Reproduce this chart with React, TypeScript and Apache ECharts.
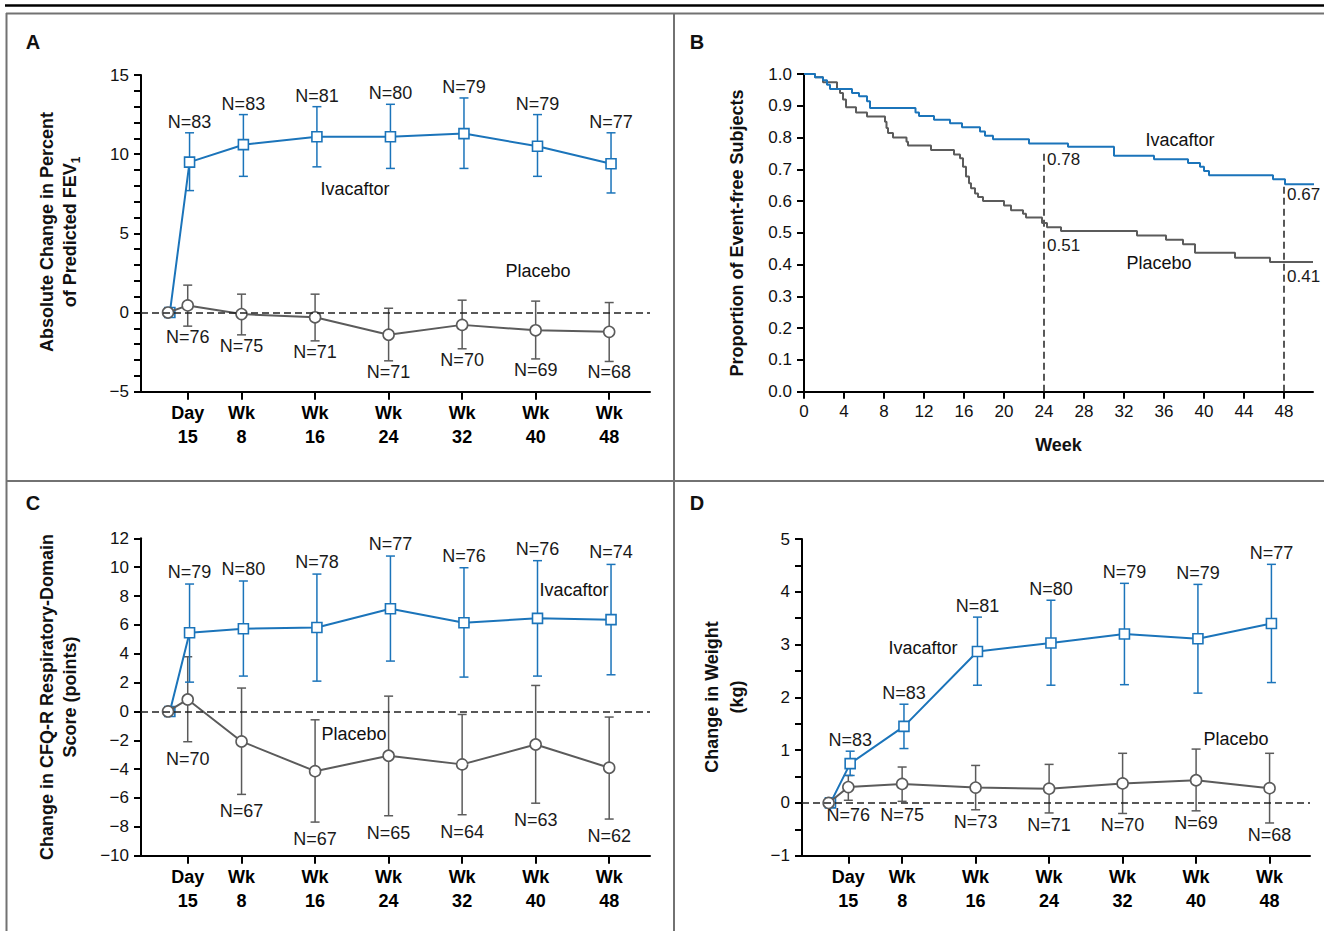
import React, { useEffect, useRef } from "react";
import * as echarts from "echarts";

// ---------- shared categories ----------
const visitWeeks = [15 / 7, 8, 16, 24, 32, 40, 48];
const visitLabels = ["Day\n15", "Wk\n8", "Wk\n16", "Wk\n24", "Wk\n32", "Wk\n40", "Wk\n48"];
const baselineWeek = 0;
const baselineValue = 0;

// ---------- Panel A: FEV1 ----------
const fevIvaMean = [9.5, 10.6, 11.1, 11.1, 11.3, 10.5, 9.4];
const fevIvaLow = [7.7, 8.6, 9.2, 9.1, 9.1, 8.6, 7.55];
const fevIvaHigh = [11.35, 12.5, 13.0, 13.15, 13.55, 12.5, 11.35];
const fevIvaN = [83, 83, 81, 80, 79, 79, 77];
const fevPboMean = [0.45, -0.1, -0.3, -1.4, -0.78, -1.12, -1.22];
const fevPboLow = [-0.86, -1.41, -1.79, -3.05, -2.29, -2.93, -3.09];
const fevPboHigh = [1.73, 1.16, 1.16, 0.27, 0.78, 0.72, 0.63];
const fevPboN = [76, 75, 71, 71, 70, 69, 68];
const fevTickLabels = [-5, 0, 5, 10, 15];

// ---------- Panel B: Kaplan-Meier ----------
const kmIvacaftor = [
  [0, 1], [1.1, 0.99], [1.9, 0.98], [2.3, 0.966], [2.6, 0.953], [4.8, 0.94], [5.5, 0.93],
  [6.3, 0.914], [6.6, 0.893], [11.15, 0.879], [11.5, 0.868], [13.0, 0.856], [14.6, 0.845],
  [15.8, 0.832], [17.6, 0.819], [18.1, 0.806], [18.9, 0.795], [22.5, 0.781], [26.4, 0.771],
  [31.0, 0.743], [35.0, 0.732], [38.4, 0.72], [39.6, 0.708], [40.0, 0.695], [40.5, 0.681],
  [46.9, 0.669], [48.1, 0.653], [51.4, 0.653],
];
const kmPlacebo = [
  [0, 1], [1.1, 0.99], [1.9, 0.974], [3.3, 0.953], [3.6, 0.94], [3.9, 0.92], [4.2, 0.895],
  [5.2, 0.879], [6.3, 0.866], [8.1, 0.85], [8.25, 0.83], [8.4, 0.814], [8.9, 0.8],
  [10.25, 0.787], [10.4, 0.775], [12.7, 0.761], [15.0, 0.747], [15.6, 0.735], [15.9, 0.708],
  [16.2, 0.677], [16.5, 0.656], [16.7, 0.64], [17.1, 0.624], [17.4, 0.613], [17.9, 0.6],
  [20.0, 0.586], [20.7, 0.571], [21.9, 0.56], [22.2, 0.548], [23.8, 0.531], [24.3, 0.518],
  [25.7, 0.506], [33.3, 0.492], [36.2, 0.478], [37.9, 0.464], [39.1, 0.437], [43.1, 0.422],
  [46.6, 0.408], [50.9, 0.408],
];
const kmMarkWeeks = [24, 48];
const kmMarkIva = [0.78, 0.67];
const kmMarkPbo = [0.51, 0.41];
const kmWeekTicks = [0, 4, 8, 12, 16, 20, 24, 28, 32, 36, 40, 44, 48];

// ---------- Panel C: CFQ-R ----------
const cfqIvaMean = [5.45, 5.73, 5.82, 7.12, 6.15, 6.45, 6.36];
const cfqIvaLow = [2.03, 2.45, 2.1, 3.49, 2.38, 2.45, 2.54];
const cfqIvaHigh = [8.83, 9.04, 9.52, 10.77, 9.96, 10.45, 10.19];
const cfqIvaN = [79, 80, 78, 77, 76, 76, 74];
const cfqPboMean = [0.83, -2.08, -4.14, -3.07, -3.67, -2.29, -3.9];
const cfqPboLow = [-2.1, -5.75, -7.67, -7.23, -7.16, -6.36, -7.46];
const cfqPboHigh = [3.79, 1.62, -0.58, 1.06, -0.21, 1.8, -0.39];
const cfqPboN = [70, 67, 67, 65, 64, 63, 62];
const cfqTickLabels = [-10, -8, -6, -4, -2, 0, 2, 4, 6, 8, 10, 12];

// ---------- Panel D: Weight ----------
const wtIvaMean = [0.745, 1.45, 2.87, 3.03, 3.2, 3.11, 3.4];
const wtIvaLow = [0.52, 1.03, 2.23, 2.23, 2.24, 2.08, 2.28];
const wtIvaHigh = [0.98, 1.87, 3.52, 3.84, 4.16, 4.14, 4.52];
const wtIvaN = [83, 83, 81, 80, 79, 79, 77];
const wtPboMean = [0.3, 0.36, 0.29, 0.27, 0.37, 0.43, 0.28];
const wtPboLow = [0.05, 0.03, -0.13, -0.19, -0.2, -0.15, -0.38];
const wtPboHigh = [0.52, 0.68, 0.71, 0.73, 0.94, 1.02, 0.94];
const wtPboN = [76, 75, 73, 71, 70, 69, 68];
const wtTickLabels = [-1, 0, 1, 2, 3, 4, 5];

// ---------- styles ----------
const FONT = "'Liberation Sans', Arial, Helvetica, sans-serif";
const BLUE = "#1b74ba";
const GRAY = "#5b5b5b";
const FRAME = "#727272";
const DODGE = 0.2;

const minusFmt = (v: number) => (v < 0 ? "\u2212" + Math.abs(v) : String(v));
const visitFmt = (v: number) => {
  const i = visitWeeks.findIndex((w) => Math.abs(w - v) < 1e-6);
  return i >= 0 ? visitLabels[i] : "";
};

const axisLineStyle = { show: true, onZero: false, lineStyle: { color: "#000", width: 2 } };
const tickStyle = { color: "#000", width: 2 };

function visitXAxis(gi: number, min: number, max: number) {
  return {
    type: "value",
    gridIndex: gi,
    min,
    max,
    axisLine: axisLineStyle,
    axisTick: { show: true, customValues: visitWeeks, length: 8, lineStyle: tickStyle },
    axisLabel: {
      show: true,
      customValues: visitWeeks,
      formatter: visitFmt,
      color: "#000",
      fontFamily: FONT,
      fontSize: 18,
      fontWeight: "bold",
      lineHeight: 24,
      margin: 9,
    },
    splitLine: { show: false },
  };
}

function valueYAxis(gi: number, min: number, max: number, tickStep: number, labels: number[] | null, fmt: any) {
  const label: any = { show: true, formatter: fmt, color: "#111", fontFamily: FONT, fontSize: 17, margin: 12 };
  if (labels) label.customValues = labels;
  return {
    type: "value",
    gridIndex: gi,
    min,
    max,
    interval: tickStep,
    axisLine: axisLineStyle,
    axisTick: { show: true, length: 7, lineStyle: tickStyle },
    axisLabel: label,
    splitLine: { show: false },
  };
}

function meanLine(gi: number, name: string, means: number[], color: string, symbol: string, dodge: number, z: number) {
  return {
    type: "line",
    name,
    xAxisIndex: gi,
    yAxisIndex: gi,
    data: [[baselineWeek + dodge, baselineValue], ...visitWeeks.map((w, i) => [w + dodge, means[i]])],
    symbol,
    symbolSize: symbol === "rect" ? 10 : 11,
    lineStyle: { color, width: 2 },
    itemStyle: { color: "#fff", borderColor: color, borderWidth: 1.6 },
    z,
    silent: true,
  };
}

function errorBars(
  gi: number,
  lows: number[],
  highs: number[],
  ns: number[],
  color: string,
  dodge: number,
  side: "above" | "below",
  offset: number,
  withZero: boolean
) {
  const s: any = {
    type: "custom",
    xAxisIndex: gi,
    yAxisIndex: gi,
    z: 2,
    silent: true,
    data: visitWeeks.map((w, i) => [w + dodge, lows[i], highs[i], ns[i]]),
    renderItem: (_p: any, api: any) => {
      const x = api.value(0);
      const lo = api.value(1);
      const hi = api.value(2);
      const n = api.value(3);
      const a = api.coord([x, lo]);
      const b = api.coord([x, hi]);
      const ly = side === "above" ? b[1] - offset : api.coord([x, Math.min(lo, 0)])[1] + offset;
      const cap = 4.5;
      const ls = { stroke: color, lineWidth: 1.5 };
      return {
        type: "group",
        children: [
          { type: "line", shape: { x1: a[0], y1: a[1], x2: b[0], y2: b[1] }, style: ls },
          { type: "line", shape: { x1: a[0] - cap, y1: a[1], x2: a[0] + cap, y2: a[1] }, style: ls },
          { type: "line", shape: { x1: b[0] - cap, y1: b[1], x2: b[0] + cap, y2: b[1] }, style: ls },
          {
            type: "text",
            x: a[0],
            y: ly,
            style: { text: "N=" + n, fill: "#1a1a1a", font: `18px ${FONT}`, align: "center", verticalAlign: "middle" },
          },
        ],
      };
    },
  };
  if (withZero) {
    s.markLine = {
      silent: true,
      symbol: "none",
      label: { show: false },
      lineStyle: { color: "#222", width: 1.5, type: [7, 4] },
      data: [{ yAxis: 0 }],
    };
  }
  return s;
}

function kmLine(name: string, data: number[][], color: string) {
  return {
    type: "line",
    name,
    xAxisIndex: 1,
    yAxisIndex: 1,
    step: "end",
    data,
    symbol: "none",
    clip: false,
    lineStyle: { color, width: 2 },
    z: 3,
    silent: true,
  };
}

function kmMarks() {
  return {
    type: "custom",
    xAxisIndex: 1,
    yAxisIndex: 1,
    z: 2,
    silent: true,
    data: kmMarkWeeks.map((w, i) => [w, kmMarkIva[i], kmMarkPbo[i]]),
    renderItem: (_p: any, api: any) => {
      const w = api.value(0);
      const iv = api.value(1);
      const pb = api.value(2);
      const bottom = api.coord([w, 0]);
      const top = api.coord([w, iv - 0.02]);
      const pIv = api.coord([w, iv]);
      const pPb = api.coord([w, pb]);
      const ts = (t: number, y: number) => ({
        type: "text",
        x: bottom[0] + 3,
        y: y + 7,
        style: { text: t.toFixed(2), fill: "#1a1a1a", font: `17px ${FONT}`, align: "left", verticalAlign: "top" },
      });
      return {
        type: "group",
        children: [
          {
            type: "line",
            shape: { x1: bottom[0], y1: bottom[1], x2: top[0], y2: top[1] },
            style: { stroke: "#222", lineWidth: 1.5, lineDash: [7, 4] },
          },
          ts(iv, pIv[1]),
          ts(pb, pPb[1]),
        ],
      };
    },
  };
}

function txt(text: string, x: number, y: number, size = 18, bold = false, extra: any = {}) {
  return {
    type: "text",
    x,
    y,
    silent: true,
    style: {
      text,
      fill: "#111",
      font: `${bold ? "bold " : ""}${size}px ${FONT}`,
      align: "center",
      verticalAlign: "middle",
      ...extra,
    },
  };
}

function rotTitle(text: string, x: number, y: number, lineHeight: number, rich?: any) {
  return {
    type: "text",
    x,
    y,
    rotation: Math.PI / 2,
    silent: true,
    style: {
      text,
      fill: "#111",
      font: `bold 18px ${FONT}`,
      align: "center",
      verticalAlign: "middle",
      lineHeight,
      rich,
    },
  };
}

function frameLine(x1: number, y1: number, x2: number, y2: number, color: string, w: number) {
  return { type: "line", silent: true, shape: { x1, y1, x2, y2 }, style: { stroke: color, lineWidth: w } };
}

function buildOption() {
  return {
    animation: false,
    backgroundColor: "#fff",
    grid: [
      { left: 141, top: 75, width: 509, height: 316.7 },
      { left: 804, top: 74, width: 509, height: 317.7 },
      { left: 141, top: 538.3, width: 509, height: 317.4 },
      { left: 802, top: 539, width: 508, height: 316.7 },
    ],
    xAxis: [
      visitXAxis(0, -2.94, 52.44),
      {
        type: "value",
        gridIndex: 1,
        min: 0,
        max: 50.9,
        axisLine: axisLineStyle,
        axisTick: { show: true, customValues: kmWeekTicks, length: 7, lineStyle: tickStyle },
        axisLabel: {
          show: true,
          customValues: kmWeekTicks,
          color: "#111",
          fontFamily: FONT,
          fontSize: 17,
          margin: 11,
        },
        splitLine: { show: false },
        name: "Week",
        nameLocation: "middle",
        nameGap: 44,
        nameTextStyle: { color: "#111", fontFamily: FONT, fontSize: 18, fontWeight: "bold" },
      },
      visitXAxis(2, -2.94, 52.44),
      visitXAxis(3, -2.9, 52.4),
    ],
    yAxis: [
      valueYAxis(0, -5, 15, 1, fevTickLabels, minusFmt),
      valueYAxis(1, 0, 1, 0.1, null, (v: number) => v.toFixed(1)),
      valueYAxis(2, -10, 12, 2, cfqTickLabels, minusFmt),
      valueYAxis(3, -1, 5, 0.5, wtTickLabels, minusFmt),
    ],
    series: [
      // A
      errorBars(0, fevPboLow, fevPboHigh, fevPboN, GRAY, 0, "below", 11, true),
      errorBars(0, fevIvaLow, fevIvaHigh, fevIvaN, BLUE, DODGE, "above", 11, false),
      meanLine(0, "Ivacaftor", fevIvaMean, BLUE, "rect", DODGE, 3),
      meanLine(0, "Placebo", fevPboMean, GRAY, "circle", 0, 4),
      // B
      kmMarks(),
      kmLine("Placebo", kmPlacebo, GRAY),
      kmLine("Ivacaftor", kmIvacaftor, BLUE),
      // C
      errorBars(2, cfqPboLow, cfqPboHigh, cfqPboN, GRAY, 0, "below", 17, true),
      errorBars(2, cfqIvaLow, cfqIvaHigh, cfqIvaN, BLUE, DODGE, "above", 12, false),
      meanLine(2, "Ivacaftor", cfqIvaMean, BLUE, "rect", DODGE, 3),
      meanLine(2, "Placebo", cfqPboMean, GRAY, "circle", 0, 4),
      // D
      errorBars(3, wtPboLow, wtPboHigh, wtPboN, GRAY, 0, "below", 12, true),
      errorBars(3, wtIvaLow, wtIvaHigh, wtIvaN, BLUE, DODGE, "above", 11, false),
      meanLine(3, "Ivacaftor", wtIvaMean, BLUE, "rect", DODGE, 3),
      meanLine(3, "Placebo", wtPboMean, GRAY, "circle", 0, 4),
    ],
    graphic: [
      // frame
      frameLine(5, 5.5, 1324, 5.5, "#000", 2.5),
      frameLine(6, 13.5, 1324, 13.5, FRAME, 2),
      frameLine(6.5, 13, 6.5, 931, FRAME, 2),
      frameLine(674, 13, 674, 931, FRAME, 2),
      frameLine(6, 481, 1324, 481, FRAME, 2),
      // panel letters
      txt("A", 33, 42, 20, true),
      txt("B", 697, 42, 20, true),
      txt("C", 33, 503, 20, true),
      txt("D", 697, 503, 20, true),
      // axis titles
      rotTitle("{b|Absolute Change in Percent}\n{b|of Predicted FEV}{s|1}", 58.5, 232, 23, {
        b: { font: `bold 18px ${FONT}`, fill: "#111", lineHeight: 23 },
        s: { font: `bold 12px ${FONT}`, fill: "#111", verticalAlign: "bottom", lineHeight: 23 },
      }),
      rotTitle("Proportion of Event-free Subjects", 737, 233, 23),
      rotTitle("Change in CFQ-R Respiratory-Domain\nScore (points)", 58.5, 697, 23),
      rotTitle("Change in Weight\n(kg)", 724.5, 697, 25),
      // series annotations
      txt("Ivacaftor", 355, 189),
      txt("Placebo", 538, 271),
      txt("Ivacaftor", 1180, 140),
      txt("Placebo", 1159, 263),
      txt("Ivacaftor", 574, 590),
      txt("Placebo", 354, 734),
      txt("Ivacaftor", 923, 648),
      txt("Placebo", 1236, 739),
    ],
  };
}

export default function App() {
  const ref = useRef<HTMLDivElement>(null);
  useEffect(() => {
    const chart = echarts.init(ref.current!, null, { renderer: "svg" });
    chart.setOption(buildOption() as any);
    return () => chart.dispose();
  }, []);
  return (
    <div
      ref={ref}
      style={{ position: "absolute", left: 0, top: 0, width: 1324, height: 931, background: "#fff" }}
    />
  );
}
